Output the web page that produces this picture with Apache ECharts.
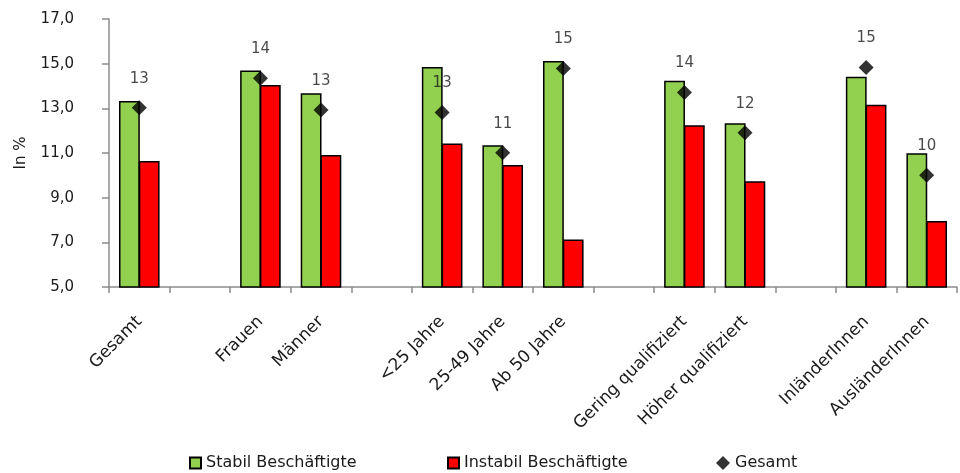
<!DOCTYPE html>
<html>
<head>
<meta charset="utf-8">
<script src="https://cdn.jsdelivr.net/npm/echarts@6/dist/echarts.min.js"></script>
<style>html,body{margin:0;padding:0;background:#fff}#c{width:960px;height:473px}</style>
</head>
<body>
<div id="c"></div>
<script>
// Categories (empty strings are spacer slots between groups)
var categories = ['Gesamt', '', 'Frauen', 'Männer', '', '<25 Jahre', '25-49 Jahre', 'Ab 50 Jahre', '', 'Gering qualifiziert', 'Höher qualifiziert', '', 'InländerInnen', 'AusländerInnen'];
var stabil   = [13.33, null, 14.69, 13.68, null, 14.85, 11.35, 15.12, null, 14.23, 12.33, null, 14.41, 10.99];
var instabil = [10.64, null, 14.05, 10.91, null, 11.43, 10.46, 7.13, null, 12.24, 9.74, null, 13.16, 7.95];
var gesamt   = [13.03, null, 14.35, 12.93, null, 12.81, 11.01, 14.78, null, 13.71, 11.91, null, 14.83, 10.00];
var seriesNames = ['Stabil Beschäftigte', 'Instabil Beschäftigte', 'Gesamt'];
var yTicks = { min: 5, max: 17, interval: 2 };

var FONT = 'DejaVu Sans';
var TXT = '#1a1a1a';
var legendLefts = [184, 442, 711];
var legendIcons = ['rect', 'rect', 'diamond'];
var legends = seriesNames.map(function (n, i) {
  return {
    bottom: -3, left: legendLefts[i], itemWidth: i === 2 ? 14 : 11, itemHeight: i === 2 ? 14 : 11,
    itemGap: 0,
    textStyle: { fontFamily: FONT, fontSize: 16, color: TXT },
    data: [{ name: n, icon: legendIcons[i] }]
  };
});

var chart = echarts.init(document.getElementById('c'));
chart.setOption({
  animation: false,
  textStyle: { fontFamily: FONT, color: TXT },
  grid: { left: 109, right: 3, top: 19, bottom: 186, containLabel: false },
  legend: legends,
  xAxis: {
    type: 'category', data: categories,
    axisLine: { lineStyle: { color: '#8c8c8c', width: 1.5 } },
    axisTick: { show: true, length: 6, lineStyle: { color: '#8c8c8c', width: 1.5 } },
    axisLabel: { rotate: 45, margin: 32, interval: 0, fontSize: 17, color: TXT, fontFamily: FONT }
  },
  yAxis: {
    type: 'value', min: yTicks.min, max: yTicks.max, interval: yTicks.interval,
    name: 'In %', nameLocation: 'middle', nameGap: 80, nameRotate: 90,
    nameTextStyle: { fontSize: 15, color: TXT, fontFamily: FONT },
    axisLine: { show: true, lineStyle: { color: '#8c8c8c', width: 1.5 } },
    axisTick: { show: true, length: 7, lineStyle: { color: '#8c8c8c', width: 1.5 } },
    splitLine: { show: false },
    axisLabel: { fontSize: 15, color: TXT, margin: 35, fontFamily: FONT,
      formatter: function (v) { return v.toFixed(1).replace('.', ','); } }
  },
  series: [
    { name: seriesNames[0], type: 'bar', data: stabil, barGap: '-5%', barCategoryGap: '33%',
      itemStyle: { color: '#92D050', borderColor: '#000', borderWidth: 1.5 } },
    { name: seriesNames[1], type: 'bar', data: instabil, barGap: '-5%', barCategoryGap: '33%',
      itemStyle: { color: '#FF0000', borderColor: '#000', borderWidth: 1.5 } },
    { name: seriesNames[2], type: 'scatter', data: gesamt, symbol: 'diamond', symbolSize: [15, 15],
      itemStyle: { color: '#000' }, z: 5,
      label: { show: true, position: 'top', distance: 14, fontSize: 15, color: TXT, fontFamily: FONT,
        formatter: function (p) { return Math.round(p.value); } } }
  ]
});
</script>
</body>
</html>
